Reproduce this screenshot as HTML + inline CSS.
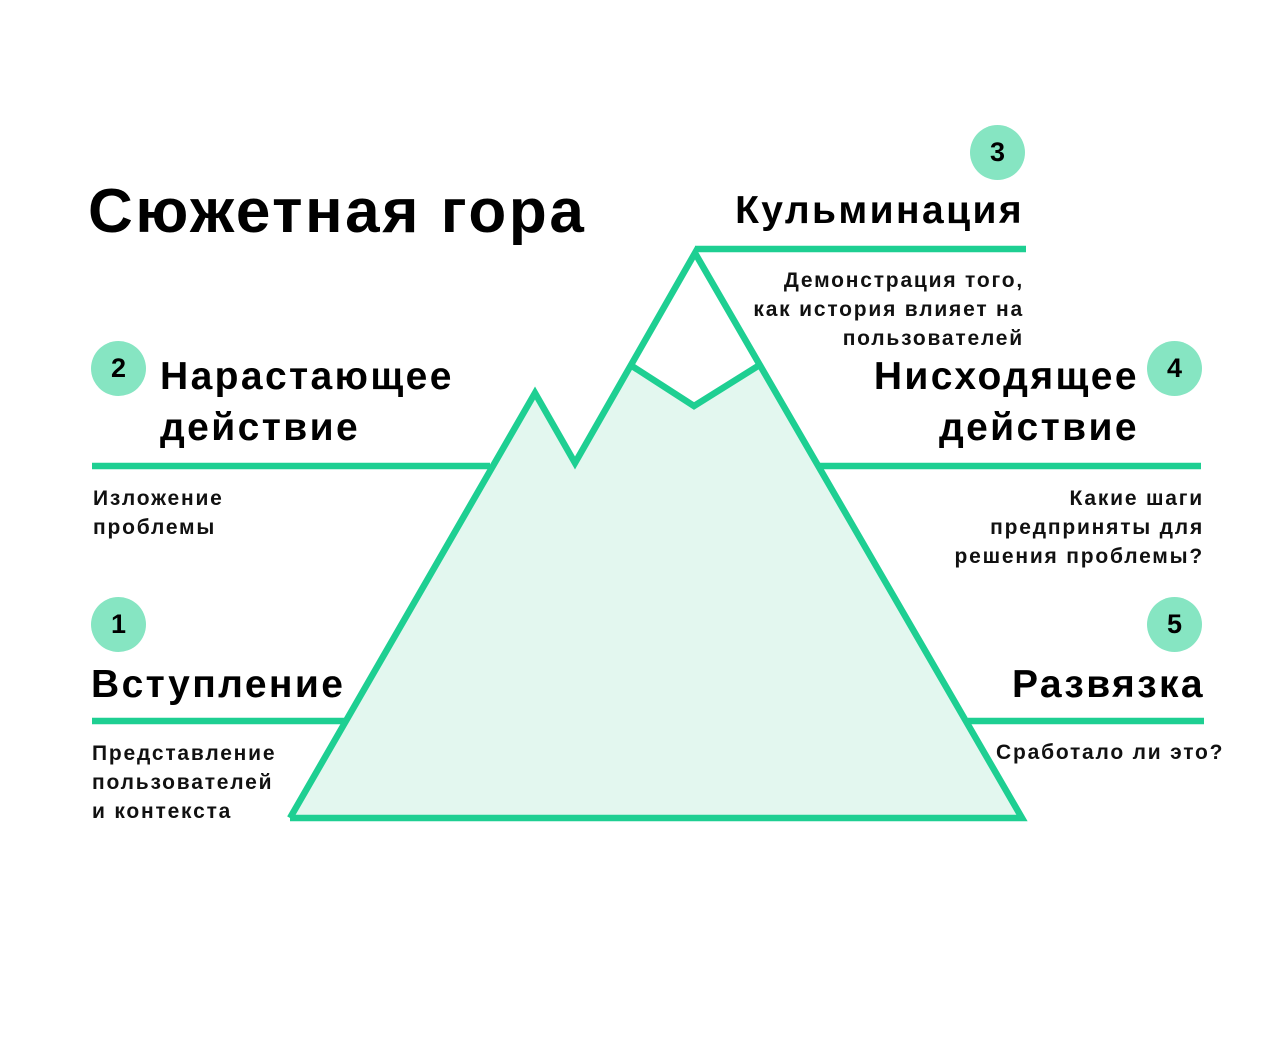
<!DOCTYPE html>
<html><head><meta charset="utf-8"><style>
body{margin:0;width:1276px;height:1037px;background:#fff;position:relative;overflow:hidden;font-family:"Liberation Sans",sans-serif;color:#000}
.t{position:absolute;white-space:nowrap;font-weight:bold}
.h{font-size:39px;line-height:51px;letter-spacing:2.4px}
.b{font-size:21px;line-height:29px;font-weight:bold;color:#111;letter-spacing:1.8px}
.r{text-align:right}
.c{position:absolute;width:55px;height:55px;border-radius:50%;background:#86e5c2;font-weight:bold;font-size:27px;line-height:55px;text-align:center}
</style></head><body>
<svg width="1276" height="1037" style="position:absolute;left:0;top:0">
<g stroke="#1ecf92" stroke-width="6.5" fill="none">
<polygon points="290,818 535,393 575,463 632,366 694,406 758,366 1022,818" fill="#e3f7ef" stroke="none"/>
<polyline points="290,818 535,393 575,463 695,253 1022,818 290,818" stroke-linejoin="miter"/>
<polyline points="632,366 694,406 758,366"/>
<line x1="92" y1="466" x2="490" y2="466"/>
<line x1="818" y1="466" x2="1201" y2="466"/>
<line x1="92" y1="721" x2="345" y2="721"/>
<line x1="968" y1="721" x2="1204" y2="721"/>
<line x1="695" y1="249" x2="1026" y2="249"/>
</g></svg>
<div class="t" style="left:88px;top:176px;font-size:62px;line-height:72px;letter-spacing:2.6px">Сюжетная гора</div>
<div class="c" style="left:91px;top:341px">2</div>
<div class="c" style="left:91px;top:597px">1</div>
<div class="c" style="left:970px;top:125px">3</div>
<div class="c" style="left:1147px;top:341px">4</div>
<div class="c" style="left:1147px;top:597px">5</div>
<div class="t h" style="left:160px;top:351px">Нарастающее<br>действие</div>
<div class="t h" style="left:91px;top:659px">Вступление</div>
<div class="t h r" style="right:252px;top:185px">Кульминация</div>
<div class="t h r" style="right:137px;top:351px">Нисходящее<br>действие</div>
<div class="t h r" style="right:71px;top:659px">Развязка</div>
<div class="t b" style="left:93px;top:484px">Изложение<br>проблемы</div>
<div class="t b" style="left:92px;top:739px">Представление<br>пользователей<br>и контекста</div>
<div class="t b r" style="right:252px;top:266px">Демонстрация того,<br>как история влияет на<br>пользователей</div>
<div class="t b r" style="right:72px;top:484px">Какие шаги<br>предприняты для<br>решения проблемы?</div>
<div class="t b" style="left:996px;top:738px">Сработало ли это?</div>
</body></html>
